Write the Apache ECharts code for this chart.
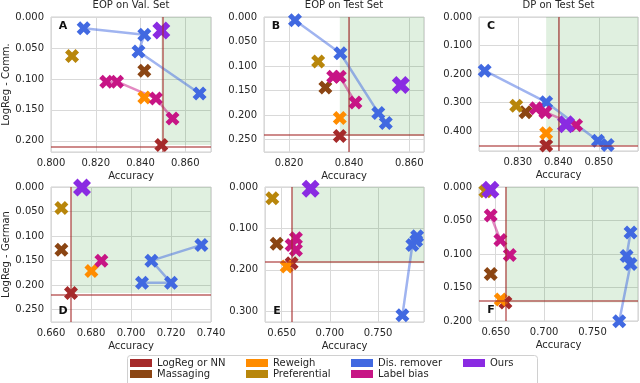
<!DOCTYPE html>
<html>
<head>
<meta charset="utf-8">
<script src="https://cdn.jsdelivr.net/npm/echarts@6/dist/echarts.min.js"></script>
<style>html,body{margin:0;padding:0;background:#fff}#main{width:640px;height:383px}</style>
</head>
<body>
<div id="main"></div>
<script>
var methods = ['LogReg or NN', 'Massaging', 'Reweigh', 'Preferential', 'Dis. remover', 'Label bias', 'Ours'];
var colors = ['#a52a2a', '#8b4513', '#ff8c00', '#b8860b', '#4169e1', '#c71585', '#8a2be2'];
var panelTitles = ['EOP on Val. Set', 'EOP on Test Set', 'DP on Test Set', '', '', ''];
var panelLetters = ['A', 'B', 'C', 'D', 'E', 'F'];
var rowNames = ['LogReg - Comm.', 'LogReg - German'];

// axis ranges / ticks per panel
var xRanges = [[0.8, 0.8715], [0.8117, 0.8649], [0.8204, 0.8597], [0.66, 0.74], [0.6327, 0.7976], [0.6327, 0.797]];
var xSteps = [0.02, 0.02, 0.01, 0.02, 0.05, 0.05];
var yMaxs = [0.218, 0.275, 0.469, 0.275, 0.326, 0.2];
var ySteps = [0.05, 0.05, 0.1, 0.05, 0.1, 0.05];

// [accuracy, unfairness] per panel A..F
var logReg = [[[0.8493, 0.2065]], [[0.8369, 0.2425]], [[0.8370, 0.450]], [[0.670, 0.216]], [[0.6603, 0.184]], [[0.660, 0.1725]]];
var massaging = [[[0.8417, 0.0867]], [[0.8321, 0.1434]], [[0.8319, 0.333]], [[0.6652, 0.128]], [[0.6448, 0.137]], [[0.6448, 0.130]]];
var reweigh = [[[0.8417, 0.1299]], [[0.8369, 0.2056]], [[0.8370, 0.407]], [[0.6802, 0.171]], [[0.6552, 0.192]], [[0.6552, 0.168]]];
var preferential = [[[0.8094, 0.0628]], [[0.8297, 0.0908]], [[0.8296, 0.311]], [[0.6652, 0.043]], [[0.6403, 0.027]], [[0.6393, 0.0065]]];
var disRemover = [
    [[0.8146, 0.018], [0.8417, 0.0287], [0.8391, 0.0558], [0.8664, 0.1234]],
    [[0.8220, 0.0068], [0.8371, 0.0738], [0.8497, 0.1954], [0.8522, 0.2158]],
    [[0.8218, 0.188], [0.8370, 0.298], [0.8498, 0.433], [0.8522, 0.448]],
    [[0.7055, 0.195], [0.7200, 0.195], [0.7102, 0.150], [0.7352, 0.118]],
    [[0.7752, 0.310], [0.7855, 0.140], [0.7895, 0.130], [0.7905, 0.119]],
    [[0.7776, 0.2005], [0.7893, 0.115], [0.7852, 0.103], [0.7893, 0.068]]
];
var labelBias = [
    [[0.8247, 0.1045], [0.8295, 0.1045], [0.8469, 0.1315], [0.8543, 0.164]],
    [[0.8347, 0.1216], [0.8369, 0.1216], [0.8421, 0.1742]],
    [[0.8345, 0.319], [0.8368, 0.333], [0.8444, 0.379]],
    [[0.6852, 0.150]],
    [[0.6648, 0.124], [0.6603, 0.140], [0.6648, 0.152]],
    [[0.6448, 0.0425], [0.6548, 0.079], [0.6645, 0.1015]]
];
var ours = [[[0.8493, 0.0217]], [[0.8572, 0.1387]], [[0.8419, 0.375]], [[0.6755, 0.001]], [[0.680, 0.004]], [[0.6445, 0.004]]];

var pointSets = [logReg, massaging, reweigh, preferential, disRemover, labelBias, ours];

var grids = [
    {left: 51, top: 17, width: 160, height: 135},
    {left: 264, top: 17, width: 160, height: 135},
    {left: 479, top: 17, width: 159, height: 134},
    {left: 51, top: 187, width: 160, height: 135},
    {left: 265, top: 187, width: 159, height: 135},
    {left: 479, top: 187, width: 159, height: 134}
];
var FONT = 'DejaVu Sans';
var TXT = '#262626';
var xMark = 'path://M1,0L2,1L3,0L4,1L3,2L4,3L3,4L2,3L1,4L0,3L1,2L0,1Z';

function tickFmt(step) {
    return function (v) {
        var k = v / step;
        return Math.abs(k - Math.round(k)) < 1e-6 ? v.toFixed(3) : '';
    };
}
function onStep(v, step) {
    var k = v / step;
    return Math.abs(k - Math.round(k)) < 1e-6;
}

var xAxes = [], yAxes = [], series = [], titles = [], graphics = [];
grids.forEach(function (g, p) {
    g.show = true;
    g.borderColor = '#cfcfcf';
    g.borderWidth = 1;
    g.containLabel = false;
    g.outerBoundsMode = 'none';

    var xa = {
        type: 'value', gridIndex: p, min: xRanges[p][0], max: xRanges[p][1],
        name: 'Accuracy', nameLocation: 'middle', nameGap: 19,
        nameTextStyle: {fontFamily: FONT, fontSize: 10, color: TXT},
        axisLine: {show: false}, axisTick: {show: false},
        axisLabel: {interval: 0, margin: 6, fontFamily: FONT, fontSize: 10, color: TXT, formatter: tickFmt(xSteps[p])},
        splitLine: {show: true, lineStyle: {color: '#d9d9d9', width: 1}}
    };
    if (onStep(xRanges[p][0], xSteps[p])) {
        xa.interval = xSteps[p];
    } else {
        xa.splitNumber = 3;
    }
    xAxes.push(xa);

    var ya = {
        type: 'value', gridIndex: p, min: 0, max: yMaxs[p], interval: ySteps[p], inverse: true,
        axisLine: {show: false}, axisTick: {show: false},
        axisLabel: {interval: 0, margin: 7, fontFamily: FONT, fontSize: 10, color: TXT, formatter: tickFmt(ySteps[p])},
        splitLine: {show: true, lineStyle: {color: '#d9d9d9', width: 1}}
    };
    if (p % 3 === 0) {
        ya.name = rowNames[p / 3];
        ya.nameLocation = 'middle';
        ya.nameRotate = 90;
        ya.nameGap = 38;
        ya.nameTextStyle = {fontFamily: FONT, fontSize: 10, color: TXT};
    }
    yAxes.push(ya);

    // baseline (LogReg) lines and the "better than baseline" zone
    var base = logReg[p][0];
    series.push({
        name: methods[0], type: 'line', xAxisIndex: p, yAxisIndex: p,
        data: logReg[p], symbol: 'none', showSymbol: false, lineStyle: {width: 0}, z: 1, silent: true,
        markArea: {
            silent: true, itemStyle: {color: 'rgba(0,128,0,0.12)'},
            data: [[{coord: [base[0], 0]}, {coord: [xRanges[p][1], base[1]]}]]
        },
        markLine: {
            silent: true, symbol: ['none', 'none'], label: {show: false},
            lineStyle: {color: 'rgba(165,42,42,0.55)', width: 2, type: 'solid'},
            data: [{xAxis: base[0]}, {yAxis: base[1]}]
        }
    });

    // connecting lines
    [4, 5].forEach(function (m) {
        var pts = pointSets[m][p];
        if (pts.length > 1) {
            series.push({
                name: methods[m], type: 'line', xAxisIndex: p, yAxisIndex: p, data: pts,
                symbol: 'none', z: 2, silent: true,
                lineStyle: {color: colors[m], width: 2.5, opacity: 0.5}
            });
        }
    });

    // markers
    pointSets.forEach(function (set, m) {
        series.push({
            name: methods[m], type: 'scatter', xAxisIndex: p, yAxisIndex: p, data: set[p],
            symbol: xMark, symbolSize: m === 6 ? 18 : 14, clip: false, z: 3,
            itemStyle: {color: colors[m], opacity: 1}
        });
    });

    if (panelTitles[p]) {
        titles.push({
            text: panelTitles[p], left: g.left + g.width / 2, top: 0, padding: 0, textAlign: 'center',
            textStyle: {fontFamily: FONT, fontSize: 10, fontWeight: 'normal', color: TXT}
        });
    }
    var ly = p < 3 ? g.top + 9 : g.top + g.height - 11;
    graphics.push({
        type: 'text', x: g.left + 12, y: ly, z: 10,
        style: {text: panelLetters[p], fontFamily: FONT, fontSize: 11, fontWeight: 'bold', fill: '#111', align: 'center', verticalAlign: 'middle'}
    });
});

graphics.push({
    type: 'rect', z: 0, shape: {x: 127.5, y: 355.5, width: 410, height: 40, r: 3},
    style: {fill: '#fff', stroke: '#d0d0d0', lineWidth: 1}
});

function legendCol(names, left) {
    return {
        orient: 'vertical', left: left, top: 358, height: 24, padding: 0,
        itemWidth: 22, itemHeight: 8, itemGap: 1,
        icon: 'rect', selectedMode: false,
        textStyle: {fontFamily: FONT, fontSize: 10, color: TXT, lineHeight: 10},
        data: names.map(function (n) {
            return {name: n, itemStyle: {color: colors[methods.indexOf(n)]}};
        })
    };
}

var myChart = echarts.init(document.getElementById('main'), null, {renderer: 'canvas'});
myChart.setOption({
    animation: false,
    backgroundColor: '#fff',
    title: titles,
    grid: grids,
    xAxis: xAxes,
    yAxis: yAxes,
    legend: [
        legendCol(['LogReg or NN', 'Massaging'], 130),
        legendCol(['Reweigh', 'Preferential'], 246),
        legendCol(['Dis. remover', 'Label bias'], 351),
        legendCol(['Ours'], 463)
    ],
    graphic: graphics,
    series: series
});
</script>
</body>
</html>
